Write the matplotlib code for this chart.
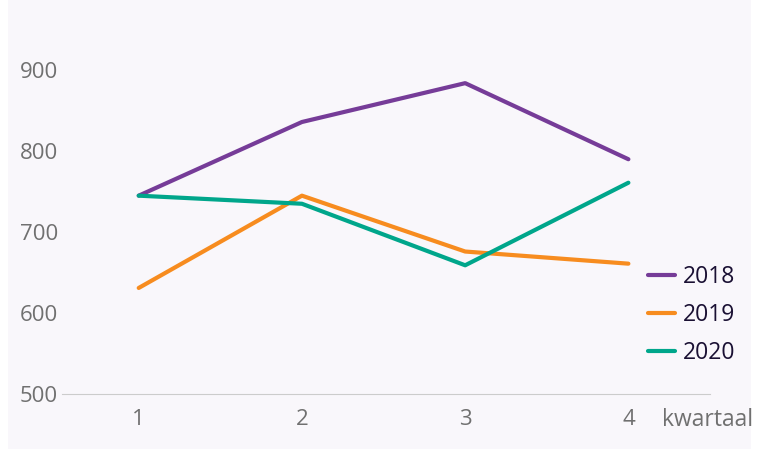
import matplotlib.pyplot as plt
from matplotlib.patches import Rectangle

plt.rcParams['font.family'] = ['Open Sans', 'DejaVu Sans']

kwartalen = [1, 2, 3, 4]
jaren = ['2018', '2019', '2020']
waarden_2018 = [745, 836, 884, 790]
waarden_2019 = [631, 745, 676, 661]
waarden_2020 = [745, 735, 659, 761]
kleuren = ['#763c98', '#f78c1f', '#00a68b']

fig = plt.figure(figsize=(7.66, 4.49), dpi=100, facecolor='white')
# lichte achtergrond
fig.patches.append(Rectangle((8 / 766, 0), 743 / 766, 1, transform=fig.transFigure,
                             facecolor='#f9f7fb', edgecolor='none', zorder=-10))
ax = fig.add_axes([62 / 766, 55 / 449, 648 / 766, 374 / 449])
ax.set_facecolor('none')

for jaar, reeks, kleur in zip(jaren, [waarden_2018, waarden_2019, waarden_2020], kleuren):
    ax.plot(kwartalen, reeks, color=kleur, lw=3, solid_capstyle='round',
            solid_joinstyle='round', label=jaar)

ax.set_xlim(0.53, 4.5)
ax.set_ylim(500, 962)
ax.set_xticks(kwartalen)
ax.set_yticks([500, 600, 700, 800, 900])
for s in ['top', 'right', 'left']:
    ax.spines[s].set_visible(False)
ax.spines['bottom'].set_color('#cccccc')
ax.tick_params(axis='both', length=0, labelsize=16, labelcolor='#707070')
ax.tick_params(axis='x', pad=11)
ax.tick_params(axis='y', pad=3)

fig.text(662 / 766, 1 - 420 / 449, 'kwartaal', fontsize=16.5, color='#707070',
         va='center', ha='left')

leg = ax.legend(loc='upper left', bbox_to_anchor=(627 / 766, 1 - 244 / 449),
                bbox_transform=fig.transFigure, frameon=False, fontsize=16.5,
                handlelength=1.18, handletextpad=0.35, labelspacing=0.62)
for t in leg.get_texts():
    t.set_color('#1a1033')

fig.savefig('out.png', dpi=100, facecolor=fig.get_facecolor())
